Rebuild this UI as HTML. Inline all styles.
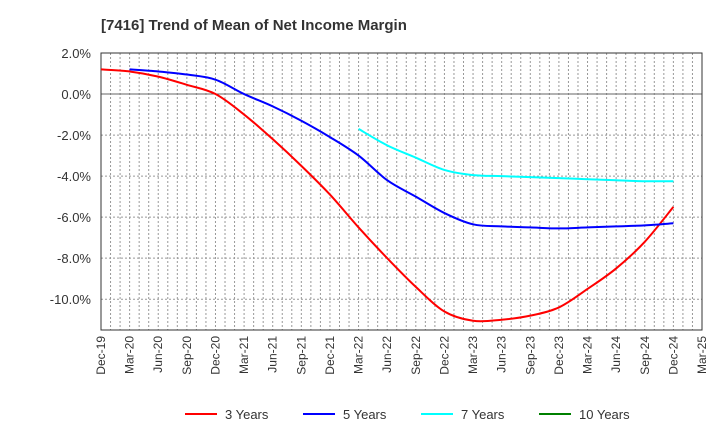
<!DOCTYPE html>
<html><head><meta charset="utf-8"><style>
body{margin:0;background:#fff;font-family:"Liberation Sans",Arial,sans-serif}
</style></head><body>
<svg id="c" width="720" height="440" xmlns="http://www.w3.org/2000/svg">
<text x="101" y="30" font-size="15" font-weight="bold" fill="#333">[7416]  Trend of Mean of Net Income Margin</text>
<g id="grid"></g><g id="axes"></g><g id="series"></g><g id="legend"></g>
</svg>
<script>
const xLabels=["Dec-19","Mar-20","Jun-20","Sep-20","Dec-20","Mar-21","Jun-21","Sep-21","Dec-21","Mar-22","Jun-22","Sep-22","Dec-22","Mar-23","Jun-23","Sep-23","Dec-23","Mar-24","Jun-24","Sep-24","Dec-24","Mar-25"];
const yTicks=[2,0,-2,-4,-6,-8,-10];
const s3=[1.2,1.1,0.85,0.45,0.0,-1.0,-2.2,-3.5,-4.9,-6.5,-8.0,-9.4,-10.6,-11.05,-11.0,-10.8,-10.4,-9.5,-8.5,-7.2,-5.5];
const s5=[null,1.2,1.1,0.95,0.7,0.0,-0.6,-1.3,-2.1,-3.0,-4.2,-5.0,-5.8,-6.35,-6.45,-6.5,-6.55,-6.5,-6.45,-6.4,-6.3];
const s7=[null,null,null,null,null,null,null,null,null,-1.7,-2.5,-3.1,-3.7,-3.95,-4.0,-4.05,-4.1,-4.15,-4.2,-4.25,-4.25];
const s10=[];
const L=101,R=702,T=53,B=330,yMax=2,yMin=-11.5;
const NS="http://www.w3.org/2000/svg";
const xm=m=>L+(R-L)*m/63;
const xq=i=>xm(i*3);
const y=v=>T+(yMax-v)/(yMax-yMin)*(B-T);
function mk(t,a,p){const e=document.createElementNS(NS,t);for(const k in a)e.setAttribute(k,a[k]);p.appendChild(e);return e;}
const g=document.getElementById('grid'),ax=document.getElementById('axes'),se=document.getElementById('series'),lg=document.getElementById('legend');
for(let m=1;m<63;m++){const l=mk('line',{x1:xm(m),x2:xm(m),y1:T,y2:B,stroke:'#999','stroke-dasharray':'2,2','stroke-width':1},g);

}
yTicks.forEach(v=>{const l=mk('line',{x1:L,x2:R,y1:y(v),y2:y(v),stroke:v===0?'#666':'#999','stroke-dasharray':v===0?'':'2,2','stroke-width':1},g);


const t=mk('text',{x:L-10,y:y(v)+5,'text-anchor':'end','font-size':13,fill:'#333'},ax);t.textContent=v.toFixed(1)+'%';

});
const fr=mk('rect',{x:L,y:T,width:R-L,height:B-T,fill:'none',stroke:'#333','stroke-width':1},ax);


xLabels.forEach((s,i)=>{const t=mk('text',{transform:`translate(${xq(i)+4},${B+6}) rotate(-90)`,'text-anchor':'end','font-size':12,fill:'#333'},ax);t.textContent=s;

});
function path(data,color,name){const p=[];data.forEach((v,i)=>{if(v!=null)p.push([xq(i),y(v)]);});if(p.length<2)return;
let d=`M${p[0][0]},${p[0][1]}`;for(let i=0;i<p.length-1;i++){const p0=p[i-1]||p[i],p1=p[i],p2=p[i+1],p3=p[i+2]||p2;
d+=` C${p1[0]+(p2[0]-p0[0])/6},${p1[1]+(p2[1]-p0[1])/6} ${p2[0]-(p3[0]-p1[0])/6},${p2[1]-(p3[1]-p1[1])/6} ${p2[0]},${p2[1]}`;}
const e=mk('path',{d,fill:'none',stroke:color,'stroke-width':2},se);

}
path(s3,'#ff0000','line-3-years');path(s5,'#0000ff','line-5-years');path(s7,'#00ffff','line-7-years');path(s10,'#008000','line-10-years');
[["3 Years","#ff0000",185],["5 Years","#0000ff",303],["7 Years","#00ffff",421],["10 Years","#008000",539]].forEach(([n,c,x])=>{
const gg=mk('g',{},lg);


mk('line',{x1:x,x2:x+32,y1:414,y2:414,stroke:c,'stroke-width':2},gg);
const t=mk('text',{x:x+40,y:419,'font-size':13,fill:'#333'},gg);t.textContent=n;});
</script>
</body></html>
